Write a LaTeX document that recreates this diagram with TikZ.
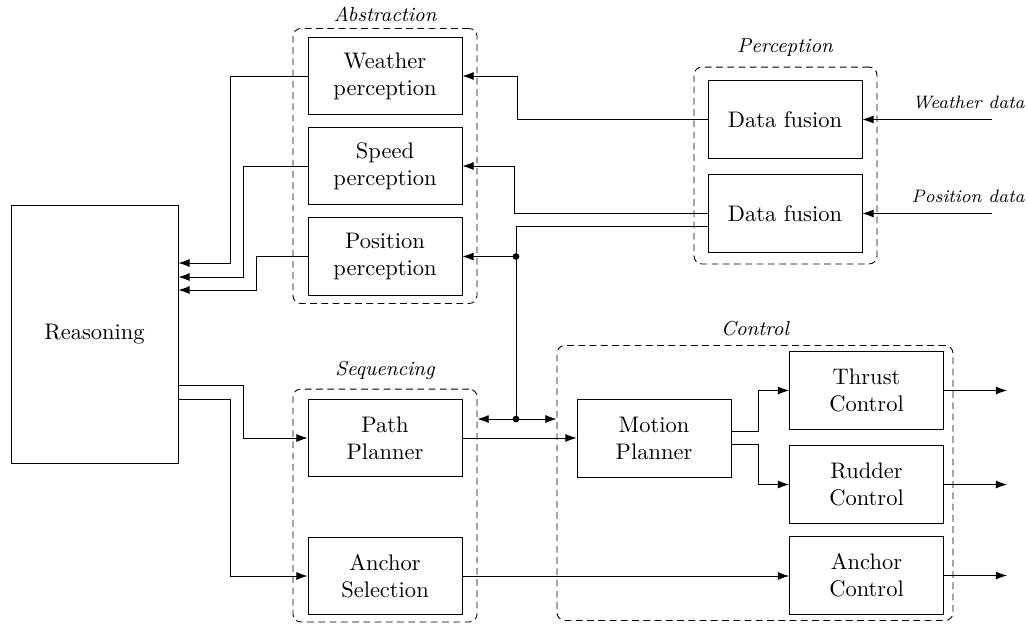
\documentclass[tikz,border=0pt]{standalone}
\usetikzlibrary{arrows.meta,calc}
\begin{document}
\begin{tikzpicture}[x=0.4444pt,y=-0.4444pt,
  blk/.style={draw, minimum width=68.4pt, minimum height=34.5pt, align=center, inner sep=0pt},
  grp/.style={draw, dash pattern=on 3pt off 2pt, rounded corners=3.5pt, inner sep=0pt},
  arr/.style={-{Latex[length=5pt,width=3.6pt]}},
  lbl/.style={font=\small\itshape},
  inlbl/.style={font=\footnotesize\itshape, inner sep=0pt, anchor=base east},
  dot/.style={circle, fill, inner sep=0pt, minimum size=3pt}]
\useasboundingbox (0,0) rectangle (1028,624);
% groups
\node[grp, minimum width=81.8pt, minimum height=122.2pt] (abs) at (385,166) {};
\node[grp, minimum width=81.3pt, minimum height=87.5pt] (perc) at (785.5,165.5) {};
\node[grp, minimum width=81.8pt, minimum height=103.5pt] (seq) at (385,505.5) {};
\node[grp, minimum width=176pt, minimum height=122.2pt] (ctrl) at (755,483) {};
\node[lbl] at (385,14) {Abstraction};
\node[lbl] at (785,48) {Perception};
\node[lbl] at (385,370) {Sequencing};
\node[lbl] at (755,329) {Control};
% blocks
\node[blk] (weather) at (385,76) {Weather\\perception};
\node[blk] (speed) at (385,166) {Speed\\perception};
\node[blk] (position) at (385,256.5) {Position\\perception};
\node[blk] (df1) at (785,119.5) {Data fusion};
\node[blk] (df2) at (785,213.5) {Data fusion};
\node[blk] (path) at (385,438) {Path\\Planner};
\node[blk] (anchorsel) at (385,576) {Anchor\\Selection};
\node[blk] (motion) at (654,438.5) {Motion\\Planner};
\node[blk] (thrust) at (866.5,390.5) {Thrust\\Control};
\node[blk] (rudder) at (866.5,484.5) {Rudder\\Control};
\node[blk] (anchorctl) at (866.5,575.5) {Anchor\\Control};
\node[draw, minimum width=74.2pt, minimum height=114.7pt] (reasoning) at (94.5,334) {Reasoning};
% inputs
\coordinate (wd) at (992,119.5);
\coordinate (pd) at (992,213.5);
\node[inlbl] at (1025,108) {Weather data};
\node[inlbl] at (1025,202) {Position data};
\draw[arr] (wd) -- (df1.east);
\draw[arr] (pd) -- (df2.east);
% perception to abstraction
\draw[arr] (df1.west) -| (517,76) -- (weather.east);
\draw[arr] (df2.west) -| (514,166) -- (speed.east);
\coordinate (j1) at (516,256.5);
\coordinate (j2) at (516,419);
\draw (df2.west |- 0,226) -| (j2);
\draw[arr] (j1) -- (position.east);
\draw[arr] (j2) -- (seq.east |- j2);
\draw[arr] (j2) -- (ctrl.west |- j2);
\node[dot] at (j1) {};
\node[dot] at (j2) {};
% abstraction to reasoning
\draw[arr] (weather.west) -| (230,263) -- (reasoning.east |- 0,263);
\draw[arr] (speed.west) -| (243,277) -- (reasoning.east |- 0,277);
\draw[arr] (position.west) -| (256,290) -- (reasoning.east |- 0,290);
% reasoning to sequencing
\draw[arr] (reasoning.east |- 0,385) -| (243,438) -- (path.west);
\draw[arr] (reasoning.east |- 0,399) -| (230,576) -- (anchorsel.west);
% sequencing to control
\draw[arr] (path.east) -- (motion.west |- path.east);
\draw[arr] (anchorsel.east) -- (anchorctl.west |- anchorsel.east);
\draw[arr] (motion.east |- 0,431) -| (758,390.5) -- (thrust.west);
\draw[arr] (motion.east |- 0,444) -| (758,484.5) -- (rudder.west);
% outputs
\coordinate (o1) at (1007,390.5);
\coordinate (o2) at (1007,484.5);
\coordinate (o3) at (1007,575.5);
\draw[arr] (thrust.east) -- (o1);
\draw[arr] (rudder.east) -- (o2);
\draw[arr] (anchorctl.east) -- (o3);
\end{tikzpicture}
\end{document}
